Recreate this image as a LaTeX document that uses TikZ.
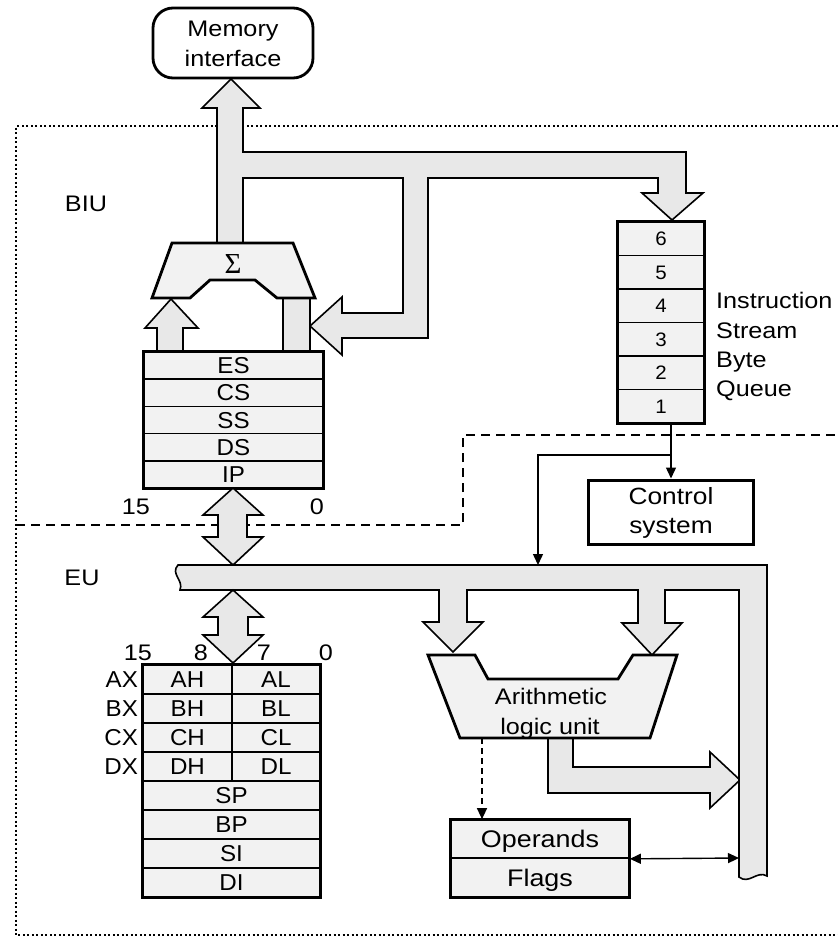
\documentclass[tikz,border=0pt]{standalone}
\usepackage{fontspec}
\setmainfont{Liberation Sans}
\newfontfamily\dfont{Liberation Sans}[FakeStretch=1.12]
\newfontfamily\rfont{Liberation Sans}[FakeStretch=1.05]
\newfontfamily\sgfont{Liberation Serif}
\usetikzlibrary{arrows.meta}
\definecolor{busgray}{gray}{0.91}
\definecolor{cellgray}{gray}{0.95}
\begin{document}
\begin{tikzpicture}[x=1pt,y=-1pt,
  bus/.style={draw, line width=1.6pt, fill=busgray, line join=miter},
  thickbox/.style={draw, line width=2.8pt},
  cell/.style={draw, line width=1.7pt, fill=cellgray, inner sep=0pt,
    font=\rfont\fontsize{23}{23}\selectfont, text height=16pt, text depth=0pt},
  qcell/.style={cell, font=\rfont\fontsize{19.5}{19.5}\selectfont, text height=14pt},
  lbl/.style={inner sep=0pt, font=\dfont\fontsize{22.5}{22.5}\selectfont, text height=16pt, text depth=0pt},
  rlbl/.style={inner sep=0pt, font=\rfont\fontsize{23}{23}\selectfont, text height=16pt, text depth=0pt},
  wire/.style={line width=1.4pt, -{Triangle[length=11pt,width=10pt]}},
  sepline/.style={line width=1.6pt, dash pattern=on 9pt off 6pt},
  frameline/.style={line width=1.5pt, dash pattern=on 2pt off 2.5pt}
]
\useasboundingbox (0,0) rectangle (838,943);

% outer dotted frame
\draw[frameline] (838,126) -- (16,126) -- (16,935) -- (838,935);
% BIU / EU separation
\draw[sepline] (16,525) -- (463,525) -- (463,435) -- (838,435);

% memory interface
\node[draw, line width=2.8pt, rounded corners=20pt, minimum width=160pt, minimum height=70pt, fill=white] (mem) at (233,43) {};
\node[lbl] (memt1) at (233,28.5) {Memory};
\node[lbl] (memt2) at (233,58) {interface};

% BIU bus
\draw[bus] (231,79) -- (260,108) -- (243,108) -- (243,152) -- (686,152) -- (686,193) -- (703,193)
  -- (672,220) -- (642,193) -- (658,193) -- (658,178) -- (428,178) -- (428,338) -- (342,338)
  -- (342,355) -- (310,326) -- (342,297) -- (342,313) -- (403,313) -- (403,178) -- (243,178)
  -- (243,243) -- (217,243) -- (217,108) -- (202,108) -- cycle;

% column from segment registers to adder, and left arrow
\draw[bus] (283,298) rectangle (310,352);
\draw[bus] (157,352) -- (157,328) -- (145,328) -- (171,299) -- (198,328) -- (183,328) -- (183,352) -- cycle;

% adder
\draw[line width=2.8pt, fill=cellgray, line join=miter] (172,243) -- (293,243) -- (315,298) -- (277,298)
  -- (255,280) -- (210,280) -- (190,298) -- (152,298) -- cycle;
\node[inner sep=0pt, font=\sgfont\fontsize{29}{29}\selectfont, text height=19pt, text depth=0pt] (sigma) at (233,264) {Σ};

% BIU label
\node[lbl] (biu) at (86,203) {BIU};

% instruction queue
\foreach \t [count=\i] in {6,5,4,3,2,1}
  \node[qcell, minimum width=86pt, minimum height=33.5pt] (q\t) at (661,{222+33.5*(\i-0.5)}) {\t};
\draw[thickbox] (q6.north west) rectangle (q1.south east);
\node[lbl, anchor=base west] (iq1) at (716,308) {Instruction};
\node[lbl, anchor=base west] (iq2) at (716,338) {Stream};
\node[lbl, anchor=base west] (iq3) at (716,367) {Byte};
\node[lbl, anchor=base west] (iq4) at (716,396) {Queue};

% segment registers
\foreach \n/\t [count=\i] in {es/ES,cs/CS,ss/SS,ds/DS,ip/IP}
  \node[cell, minimum width=179pt, minimum height=27.2pt] (\n) at (233.5,{352+27.2*(\i-0.5)}) {\t};
\draw[thickbox] (es.north west) rectangle (ip.south east);
\node[lbl] (s15) at (136,506) {15};
\node[lbl] (s0) at (317,506) {0};

% double arrow BIU <-> EU bus
\draw[bus] (233,488) -- (263,515) -- (247,515) -- (247,537) -- (263,537) -- (233,565)
  -- (203,537) -- (218,537) -- (218,515) -- (203,515) -- cycle;

% EU label
\node[lbl] (eu) at (82,577) {EU};

% control system
\node[draw, line width=3pt, minimum width=165pt, minimum height=64pt, fill=white] (ctrl) at (670.5,512) {};
\node[lbl, font=\dfont\fontsize{23.5}{23.5}\selectfont] (ctrl1) at (671,496) {Control};
\node[lbl, font=\dfont\fontsize{23.5}{23.5}\selectfont] (ctrl2) at (671,525) {system};

% coordinates of the wires from the queue
\coordinate (qout) at (671,423);
\coordinate (br) at (671,455);
\coordinate (brl) at (538,455);
\coordinate (busin) at (538,565);

% ALU output arrow
\draw[bus] (548,738) -- (573,738) -- (573,767) -- (710,767) -- (710,752) -- (740,780)
  -- (710,808) -- (710,793) -- (548,793) -- cycle;

% EU bus
\draw[bus] (178,565) -- (767,565) -- (767,876) .. controls (757,870) and (749,885) .. (739,877)
  -- (739,590) -- (665,590) -- (665,623) -- (682,623) -- (652,655) -- (622,623) -- (638,623)
  -- (638,590) -- (467,590) -- (467,622) -- (483,622) -- (453,652) -- (423,622) -- (439,622)
  -- (439,590) -- (180,590) .. controls (184,580) and (170,574) .. (178,565) -- cycle;

% wires
\draw[wire] (qout) -- (ctrl.north -| qout);
\draw[wire] (br) -- (brl) -- (busin);

% ALU
\draw[line width=2.8pt, fill=cellgray, line join=miter] (428,655) -- (475,655) -- (488,679) -- (618,679)
  -- (633,655) -- (677,655) -- (650,738) -- (460,738) -- cycle;
\node[lbl] (alu1) at (551,696) {Arithmetic};
\node[lbl] (alu2) at (550,726) {logic unit};

% double arrow EU bus <-> general registers
\draw[bus] (233,590) -- (263,617) -- (248,617) -- (248,635) -- (263,635) -- (233,663)
  -- (203,635) -- (218,635) -- (218,617) -- (203,617) -- cycle;

% general registers
\foreach \n/\t [count=\i] in {ah/AH,bh/BH,ch/CH,dh/DH}
  \node[cell, minimum width=89pt, minimum height=29pt] (\n) at (187.5,{665+29*(\i-0.5)}) {\t};
\foreach \n/\t [count=\i] in {al/AL,bl/BL,cl/CL,dl/DL}
  \node[cell, minimum width=88pt, minimum height=29pt] (\n) at (276,{665+29*(\i-0.5)}) {\t};
\foreach \n/\t [count=\i from 5] in {sp/SP,bp/BP,si/SI,di/DI}
  \node[cell, minimum width=177pt, minimum height=29pt] (\n) at (231.5,{665+29*(\i-0.5)}) {\t};
\draw[thickbox] (ah.north west) rectangle (di.south east);
\foreach \n/\t in {ah/AX,bh/BX,ch/CX,dh/DX}
  \node[rlbl, anchor=east] (\n-x) at ([xshift=-4pt]\n.west) {\t};
\node[lbl] (g15) at (138,652) {15};
\node[lbl] (g8) at (201,652) {8};
\node[lbl] (g7) at (264,652) {7};
\node[lbl] (g0) at (326,652) {0};

% operands / flags
\node[cell, minimum width=178pt, minimum height=38pt, font=\dfont\fontsize{24}{24}\selectfont, text height=17pt] (ops) at (540,839) {Operands};
\node[cell, minimum width=178pt, minimum height=39pt, font=\dfont\fontsize{24}{24}\selectfont, text height=17pt] (flg) at (540,877.5) {Flags};
\draw[line width=3pt] (ops.north west) rectangle (flg.south east);

% ALU -> operands (dashed)
\coordinate (alub) at (482,738);
\draw[wire, dash pattern=on 6pt off 4pt] (alub) -- (alub |- ops.north);

% operands <-> bus
\coordinate (vbus) at (739,858);
\draw[line width=1.4pt, {Triangle[length=11pt,width=10pt]}-{Triangle[length=11pt,width=10pt]}] (ops.south east) -- (vbus);
\end{tikzpicture}
\end{document}
